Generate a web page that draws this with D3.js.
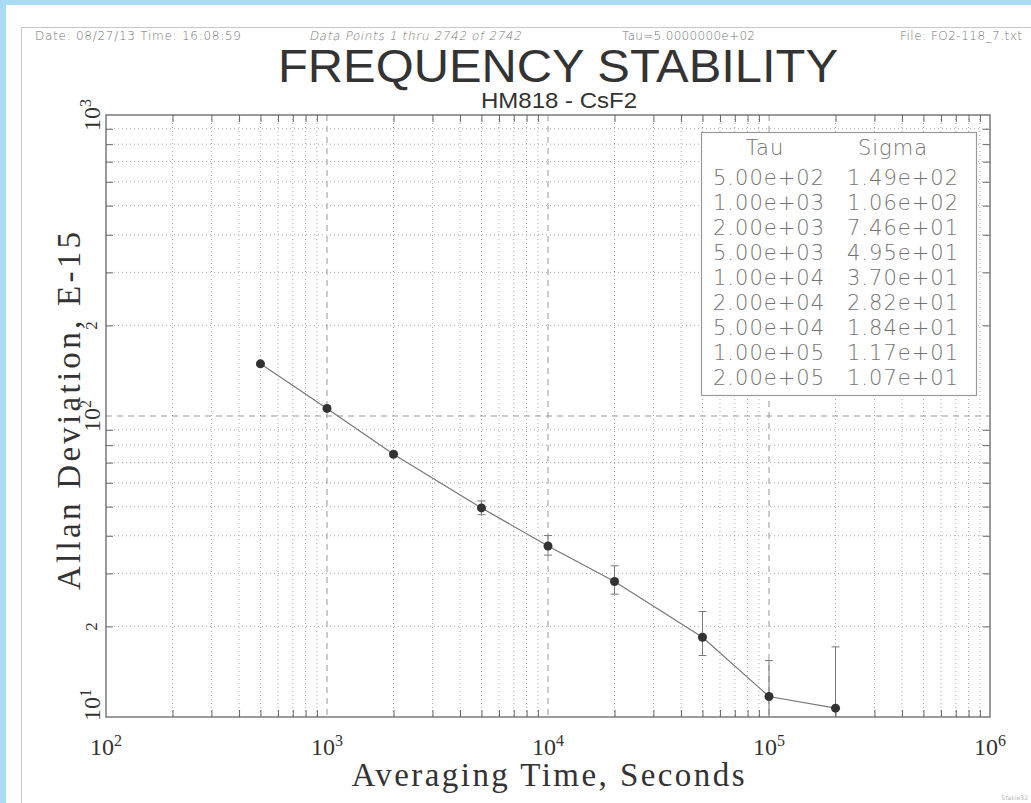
<!DOCTYPE html>
<html lang="en">
<head>
<meta charset="UTF-8">
<title>Frequency Stability</title>
<script src="https://cdn.jsdelivr.net/npm/d3@7/dist/d3.min.js"></script>
<style>
  body { margin: 0; background: #a9dcf3; }
  svg { display: block; }
  .hdr { font-family: "DejaVu Sans", sans-serif; font-weight: 200; fill: #737373; }
  .serif { font-family: "Liberation Serif", "DejaVu Serif", serif; fill: #333; }
</style>
</head>
<body>
<svg width="1031" height="803"></svg>
<script>
// data
var tau = [500, 1000, 2000, 5000, 10000, 20000, 50000, 100000, 200000]
var sigma = [149, 106, 74.6, 49.5, 37.0, 28.2, 18.4, 11.7, 10.7]
var sigmaHi = [151, 108, 76, 52.2, 40.1, 31.8, 22.4, 15.4, 17.1]
var sigmaLo = [147, 104, 73.3, 47.0, 34.5, 25.6, 16.0, 9.0, 7.5]
var tauLabels = ["5.00e+02", "1.00e+03", "2.00e+03", "5.00e+03", "1.00e+04", "2.00e+04", "5.00e+04", "1.00e+05", "2.00e+05"]
var sigmaLabels = ["1.49e+02", "1.06e+02", "7.46e+01", "4.95e+01", "3.70e+01", "2.82e+01", "1.84e+01", "1.17e+01", "1.07e+01"]
var xDecades = [2, 3, 4, 5, 6]
var yDecades = [1, 2, 3]

var svg = d3.select("svg")
var W = 1031, H = 803
var plot = {left: 106, right: 990, top: 115, bottom: 717}

// page
svg.append("rect").attr("x", 6).attr("y", 5).attr("width", W).attr("height", H).attr("fill", "#fff")
svg.append("rect").attr("x", 21.5).attr("y", 27.5).attr("width", 1100).attr("height", 900)
  .attr("fill", "none").attr("stroke", "#c8c8c8")

var x = d3.scaleLog().domain([1e2, 1e6]).range([plot.left, plot.right])
var y = d3.scaleLog().domain([1e1, 1e3]).range([plot.bottom, plot.top])

var xAll = x.ticks()
var yAll = y.ticks()
function isMajor(v) { return Math.abs(Math.log10(v) - Math.round(Math.log10(v))) < 1e-9 }
var xMinor = xAll.filter(v => !isMajor(v))
var xMajor = xAll.filter(v => isMajor(v) && v > 1e2 && v < 1e6)
var yMinor = yAll.filter(v => !isMajor(v))
var yMajor = yAll.filter(v => isMajor(v) && v > 1e1 && v < 1e3)

// grid
var grid = svg.append("g")
grid.selectAll(".gxm").data(xMinor).enter().append("line")
  .attr("x1", d => x(d)).attr("x2", d => x(d)).attr("y1", plot.top).attr("y2", plot.bottom)
  .attr("stroke", "#aaa").attr("stroke-width", 1).attr("stroke-dasharray", "1,3")
grid.selectAll(".gym").data(yMinor).enter().append("line")
  .attr("y1", d => y(d)).attr("y2", d => y(d)).attr("x1", plot.left).attr("x2", plot.right)
  .attr("stroke", "#aaa").attr("stroke-width", 1).attr("stroke-dasharray", "1,3")
grid.selectAll(".gxM").data(xMajor).enter().append("line")
  .attr("x1", d => x(d)).attr("x2", d => x(d)).attr("y1", plot.top).attr("y2", plot.bottom)
  .attr("stroke", "#999").attr("stroke-width", 1).attr("stroke-dasharray", "6,5")
grid.selectAll(".gyM").data(yMajor).enter().append("line")
  .attr("y1", d => y(d)).attr("y2", d => y(d)).attr("x1", plot.left).attr("x2", plot.right)
  .attr("stroke", "#999").attr("stroke-width", 1).attr("stroke-dasharray", "6,5")

// inward ticks on all four sides
function ticks(axis, tr) {
  var g = svg.append("g").attr("transform", tr).call(axis)
  g.select(".domain").remove()
  g.selectAll("line").attr("stroke", "#666")
  g.selectAll("text").remove()
}
ticks(d3.axisBottom(x).tickValues(xMinor).tickSize(-7).tickFormat(""), `translate(0,${plot.bottom})`)
ticks(d3.axisTop(x).tickValues(xMinor).tickSize(-7).tickFormat(""), `translate(0,${plot.top})`)
ticks(d3.axisLeft(y).tickValues(yMinor).tickSize(-7).tickFormat(""), `translate(${plot.left},0)`)
ticks(d3.axisRight(y).tickValues(yMinor).tickSize(-7).tickFormat(""), `translate(${plot.right},0)`)

svg.append("rect").attr("x", plot.left).attr("y", plot.top)
  .attr("width", plot.right - plot.left).attr("height", plot.bottom - plot.top)
  .attr("fill", "none").attr("stroke", "#666").attr("stroke-width", 1.3)

// x tick labels
xDecades.forEach(function (p) {
  var t = svg.append("text").attr("class", "serif").attr("x", x(Math.pow(10, p)))
    .attr("y", 755).attr("text-anchor", "middle").attr("font-size", 24)
  t.append("tspan").text("10")
  t.append("tspan").attr("dy", -9).attr("font-size", 16).text(p)
})
// y tick labels (rotated)
yDecades.forEach(function (p) {
  var cy = Math.max(108, Math.min(705, y(Math.pow(10, p))))
  var t = svg.append("text").attr("class", "serif")
    .attr("transform", `translate(100,${cy}) rotate(-90)`)
    .attr("text-anchor", "middle").attr("font-size", 24)
  t.append("tspan").text("10")
  t.append("tspan").attr("dy", -9).attr("font-size", 16).text(p)
})
;[20, 200].forEach(function (v) {
  svg.append("text").attr("class", "serif")
    .attr("transform", `translate(97,${y(v)}) rotate(-90)`)
    .attr("text-anchor", "middle").attr("font-size", 17).text("2")
})

// axis titles
svg.append("text").attr("class", "serif").attr("x", 548).attr("y", 786)
  .attr("text-anchor", "middle").attr("font-size", 33)
  .attr("textLength", 393).attr("lengthAdjust", "spacing")
  .text("Averaging Time,  Seconds")
svg.append("text").attr("class", "serif")
  .attr("transform", "translate(80,411) rotate(-90)")
  .attr("text-anchor", "middle").attr("font-size", 33)
  .attr("textLength", 358).attr("lengthAdjust", "spacing")
  .text("Allan Deviation,  E-15")

// headers
svg.append("text").attr("class", "hdr").attr("x", 35).attr("y", 40).attr("font-size", 12)
  .attr("textLength", 206).attr("lengthAdjust", "spacing").text("Date: 08/27/13  Time: 16:08:59")
svg.append("text").attr("class", "hdr").attr("x", 0).attr("y", 0).attr("font-size", 12)
  .attr("transform", "translate(309,40) skewX(-12)")
  .attr("textLength", 212).attr("lengthAdjust", "spacing").text("Data Points 1 thru 2742 of 2742")
svg.append("text").attr("class", "hdr").attr("x", 622).attr("y", 40).attr("font-size", 12)
  .attr("textLength", 133).attr("lengthAdjust", "spacing").text("Tau=5.0000000e+02")
svg.append("text").attr("class", "hdr").attr("x", 900).attr("y", 40).attr("font-size", 12)
  .attr("textLength", 122).attr("lengthAdjust", "spacing").text("File: FO2-118_7.txt")
svg.append("text").attr("x", 558).attr("y", 82).attr("text-anchor", "middle")
  .attr("font-family", "'Liberation Sans', Arial, sans-serif").attr("font-size", 47).attr("fill", "#333")
  .attr("textLength", 560).attr("lengthAdjust", "spacingAndGlyphs").text("FREQUENCY STABILITY")
svg.append("text").attr("x", 559).attr("y", 108).attr("text-anchor", "middle")
  .attr("font-family", "'Liberation Sans', Arial, sans-serif").attr("font-size", 22).attr("fill", "#333")
  .attr("textLength", 156).attr("lengthAdjust", "spacingAndGlyphs").text("HM818 - CsF2")
svg.append("text").attr("class", "hdr").attr("x", 1028).attr("y", 800).attr("text-anchor", "end")
  .attr("font-size", 6).text("Stable32")

// data
svg.append("clipPath").attr("id", "clip").append("rect")
  .attr("x", plot.left).attr("y", plot.top)
  .attr("width", plot.right - plot.left).attr("height", plot.bottom - plot.top)
var pts = tau.map((t, i) => ({t: t, s: sigma[i], hi: sigmaHi[i], lo: sigmaLo[i]}))
var data = svg.append("g").attr("clip-path", "url(#clip)")

var bars = data.selectAll(".eb").data(pts).enter().append("g").attr("stroke", "#777").attr("stroke-width", 1)
bars.append("line").attr("x1", d => x(d.t)).attr("x2", d => x(d.t)).attr("y1", d => y(d.hi)).attr("y2", d => y(d.lo))
bars.append("line").attr("x1", d => x(d.t) - 4).attr("x2", d => x(d.t) + 4).attr("y1", d => y(d.hi)).attr("y2", d => y(d.hi))
bars.append("line").attr("x1", d => x(d.t) - 4).attr("x2", d => x(d.t) + 4).attr("y1", d => y(d.lo)).attr("y2", d => y(d.lo))

data.append("path").datum(pts)
  .attr("d", d3.line().x(d => x(d.t)).y(d => y(d.s)))
  .attr("fill", "none").attr("stroke", "#777").attr("stroke-width", 1.2)
data.selectAll(".dot").data(pts).enter().append("circle")
  .attr("cx", d => x(d.t)).attr("cy", d => y(d.s)).attr("r", 4.5).attr("fill", "#333")

// legend table
var lg = svg.append("g")
lg.append("rect").attr("x", 701.5).attr("y", 132.5).attr("width", 275).attr("height", 263)
  .attr("fill", "#fff").attr("stroke", "#999").attr("stroke-width", 1.2)
lg.append("text").attr("class", "hdr").attr("x", 765).attr("y", 155).attr("text-anchor", "middle")
  .attr("font-size", 21).attr("letter-spacing", 1).text("Tau")
lg.append("text").attr("class", "hdr").attr("x", 893).attr("y", 155).attr("text-anchor", "middle")
  .attr("font-size", 21).attr("letter-spacing", 1).text("Sigma")
lg.selectAll(".lt").data(tauLabels).enter().append("text").attr("class", "hdr")
  .attr("x", 713).attr("y", (d, i) => 185 + i * 25).attr("font-size", 21).attr("letter-spacing", 1).text(d => d)
lg.selectAll(".ls").data(sigmaLabels).enter().append("text").attr("class", "hdr")
  .attr("x", 847).attr("y", (d, i) => 185 + i * 25).attr("font-size", 21).attr("letter-spacing", 1).text(d => d)
</script>
</body>
</html>
